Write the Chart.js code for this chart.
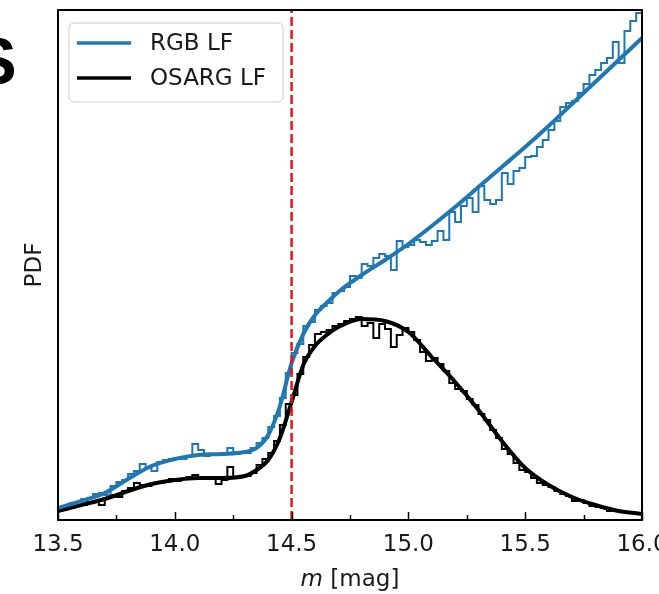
<!DOCTYPE html>
<html>
<head>
<meta charset="utf-8">
<title>RGB and OSARG luminosity functions</title>
<script src="https://cdn.jsdelivr.net/npm/chart.js@4.4.1/dist/chart.umd.min.js"></script>
<style>
  html, body { margin: 0; padding: 0; background: #fff; overflow: hidden; }
  #wrap { position: relative; width: 659px; height: 594px; overflow: hidden; }
  #lfChart { position: absolute; left: 0; top: 0; }
  .panel-mark {
    position: absolute; left: -28px; top: 27px;
    font: bold 67px "Liberation Sans", Arial, sans-serif; line-height: 1; color: #000;
  }
</style>
</head>
<body>
<div id="wrap">
  <canvas id="lfChart" width="700" height="594"></canvas>
  <div class="panel-mark">S</div>
</div>
<script>
// ---- data (arbitrary PDF units) ----
const histStart = 13.5;
const binWidth = 0.025;

const rgbHist = [
  0.13, 0.14, 0.17, 0.18, 0.21, 0.22, 0.26, 0.27, 0.25, 0.34,
  0.38, 0.40, 0.46, 0.49, 0.56, 0.52, 0.49, 0.58, 0.60, 0.61,
  0.62, 0.61, 0.64, 0.76, 0.70, 0.64, 0.65, 0.66, 0.67, 0.72,
  0.66, 0.68, 0.67, 0.72, 0.77, 0.82, 0.93, 1.04, 1.22, 1.47,
  1.67, 1.76, 1.94, 1.98, 2.10, 2.14, 2.17, 2.27, 2.29, 2.33,
  2.44, 2.42, 2.56, 2.54, 2.62, 2.66, 2.64, 2.50, 2.79, 2.73,
  2.75, 2.80, 2.78, 2.75, 2.79, 2.89, 2.80, 3.08, 2.98, 3.14,
  3.22, 3.08, 3.34, 3.20, 3.16, 3.20, 3.47, 3.36, 3.49, 3.52,
  3.63, 3.64, 3.73, 3.80, 3.90, 3.99, 4.13, 4.17, 4.19, 4.27,
  4.36, 4.45, 4.50, 4.57, 4.62, 4.78, 4.57, 4.89, 4.99, 5.07
];

const osargHist = [
  0.10, 0.12, 0.13, 0.15, 0.15, 0.18, 0.19, 0.15, 0.22, 0.25,
  0.23, 0.29, 0.32, 0.37, 0.35, 0.34, 0.37, 0.37, 0.38, 0.41,
  0.39, 0.41, 0.43, 0.45, 0.43, 0.42, 0.41, 0.36, 0.40, 0.53,
  0.43, 0.44, 0.44, 0.47, 0.55, 0.61, 0.67, 0.79, 0.95, 1.16,
  1.25, 1.46, 1.63, 1.75, 1.86, 1.88, 1.90, 1.94, 1.96, 1.99,
  2.01, 2.03, 1.94, 1.97, 1.82, 1.96, 1.91, 1.73, 1.85, 1.92,
  1.88, 1.80, 1.68, 1.59, 1.62, 1.56, 1.49, 1.37, 1.31, 1.29,
  1.21, 1.15, 1.06, 1.00, 0.90, 0.82, 0.71, 0.66, 0.57, 0.50,
  0.48, 0.42, 0.37, 0.35, 0.33, 0.29, 0.26, 0.24, 0.19, 0.20,
  0.17, 0.14, 0.13, 0.12, 0.09, 0.10, 0.08, 0.08, 0.07, 0.06
];

const fitMag = [13.5, 13.6, 13.7, 13.8, 13.9, 14.0, 14.1, 14.2, 14.3, 14.35,
                14.4, 14.45, 14.5, 14.55, 14.6, 14.65, 14.7, 14.8, 14.9, 15.0,
                15.1, 15.2, 15.3, 15.4, 15.5, 15.6, 15.7, 15.8, 15.9, 16.0];
const rgbFit = [0.12, 0.19, 0.27, 0.41, 0.54, 0.61, 0.65, 0.66, 0.68, 0.72,
                0.85, 1.14, 1.57, 1.86, 2.05, 2.17, 2.28, 2.45, 2.60, 2.76,
                2.94, 3.13, 3.33, 3.53, 3.73, 3.94, 4.16, 4.38, 4.60, 4.82];
const osargFit = [0.09, 0.15, 0.21, 0.29, 0.36, 0.40, 0.42, 0.42, 0.44, 0.50,
                  0.60, 0.82, 1.18, 1.55, 1.74, 1.85, 1.93, 2.01, 1.99, 1.88,
                  1.63, 1.38, 1.10, 0.79, 0.52, 0.35, 0.23, 0.15, 0.09, 0.06];

const trgbMag = 14.5;
const majorTicks = [13.5, 14.0, 14.5, 15.0, 15.5, 16.0];
const minorTicks = [13.75, 14.25, 14.75, 15.25, 15.75];
const yMax = 5.1;

const legendItems = [
  { label: 'RGB LF', color: '#1f77b4' },
  { label: 'OSARG LF', color: '#000000' }
];

// ---- helpers ----
// one point per bin edge; the value holds over the bin (step-before in chart.js terms)
function histPoints(values) {
  const pts = values.map((v, i) => ({ x: histStart + i * binWidth, y: v }));
  pts.push({ x: histStart + values.length * binWidth, y: values[values.length - 1] });
  return pts;
}

function curvePoints(values) {
  return fitMag.map((m, i) => ({ x: m, y: values[i] }));
}

const FONT = '"DejaVu Sans", "Liberation Sans", sans-serif';

// frame, inward ticks, legend and x title (matplotlib look)
const mplPlugin = {
  id: 'mplDecor',
  afterDraw(chart) {
    const { ctx, chartArea: a, scales: { x } } = chart;
    ctx.save();

    // inward ticks on bottom axis
    ctx.strokeStyle = '#000';
    ctx.lineWidth = 1.5;
    majorTicks.concat(minorTicks).forEach(v => {
      const px = Math.round(x.getPixelForValue(v)) + 0.5;
      const len = majorTicks.includes(v) ? 8 : 5;
      ctx.beginPath();
      ctx.moveTo(px, a.bottom);
      ctx.lineTo(px, a.bottom - len);
      ctx.stroke();
    });

    // axes box
    ctx.lineWidth = 2;
    ctx.strokeRect(a.left, a.top, a.right - a.left, a.bottom - a.top);

    // legend
    const lx = a.left + 11, ly = a.top + 13, lw = 214, lh = 79;
    ctx.beginPath();
    ctx.roundRect(lx, ly, lw, lh, 5);
    ctx.fillStyle = 'rgba(255,255,255,0.85)';
    ctx.fill();
    ctx.lineWidth = 1;
    ctx.strokeStyle = '#cccccc';
    ctx.stroke();

    ctx.font = '23px ' + FONT;
    ctx.textBaseline = 'middle';
    ctx.textAlign = 'left';
    legendItems.forEach((item, i) => {
      const y = ly + 20 + i * 35;
      ctx.strokeStyle = item.color;
      ctx.lineWidth = 3.5;
      ctx.beginPath();
      ctx.moveTo(lx + 8, y);
      ctx.lineTo(lx + 62, y);
      ctx.stroke();
      ctx.fillStyle = '#1a1a1a';
      ctx.fillText(item.label, lx + 81, y + 1);
    });

    // x axis title: italic m + [mag]
    const cx = (a.left + a.right) / 2;
    const ty = 580;
    const italic = 'italic 23px ' + FONT;
    const upright = '23px ' + FONT;
    ctx.font = italic;
    const w1 = ctx.measureText('m').width;
    ctx.font = upright;
    const w2 = ctx.measureText(' [mag]').width;
    const start = cx - (w1 + w2) / 2;
    ctx.fillStyle = '#1a1a1a';
    ctx.font = italic;
    ctx.fillText('m', start, ty);
    ctx.font = upright;
    ctx.fillText(' [mag]', start + w1, ty);

    ctx.restore();
  }
};

function initLFChart() {
  const canvas = document.getElementById('lfChart');
  const ctx = canvas.getContext('2d');

  Chart.defaults.font.family = FONT;

  new Chart(ctx, {
    type: 'line',
    data: {
      datasets: [
        {
          label: 'TRGB',
          data: [{ x: trgbMag, y: 0 }, { x: trgbMag, y: yMax }],
          borderColor: '#e8141c',
          borderWidth: 2.5,
          borderDash: [9, 4],
          pointRadius: 0,
          order: 0
        },
        {
          label: 'RGB LF',
          data: curvePoints(rgbFit),
          borderColor: '#1f77b4',
          borderWidth: 4,
          pointRadius: 0,
          cubicInterpolationMode: 'monotone',
          order: 1
        },
        {
          label: 'OSARG LF',
          data: curvePoints(osargFit),
          borderColor: '#000000',
          borderWidth: 4,
          pointRadius: 0,
          cubicInterpolationMode: 'monotone',
          order: 1
        },
        {
          label: 'RGB hist',
          data: histPoints(rgbHist),
          borderColor: '#1f77b4',
          borderWidth: 2,
          pointRadius: 0,
          stepped: 'before',
          order: 2
        },
        {
          label: 'OSARG hist',
          data: histPoints(osargHist),
          borderColor: '#000000',
          borderWidth: 2,
          pointRadius: 0,
          stepped: 'before',
          order: 2
        }
      ]
    },
    options: {
      responsive: false,
      animation: false,
      devicePixelRatio: 1,
      layout: {
        padding: { left: 0, right: 58, top: 10, bottom: 0 }
      },
      plugins: {
        legend: { display: false },
        tooltip: { enabled: false }
      },
      scales: {
        x: {
          type: 'linear',
          min: 13.5,
          max: 16.0,
          grid: { display: false, drawTicks: false },
          border: { display: false },
          afterBuildTicks: function(scale) {
            scale.ticks = majorTicks.map(v => ({ value: v }));
          },
          afterFit: function(scale) {
            scale.height = 74;
          },
          ticks: {
            padding: 11,
            maxRotation: 0,
            autoSkip: false,
            color: '#1a1a1a',
            font: { size: 23 },
            callback: function(value) {
              return value.toFixed(1);
            }
          }
        },
        y: {
          type: 'linear',
          min: 0,
          max: yMax,
          grid: { display: false, drawTicks: false },
          border: { display: false },
          ticks: { display: false },
          afterFit: function(scale) {
            scale.width = 58;
          },
          title: {
            display: true,
            text: 'PDF',
            color: '#1a1a1a',
            font: { size: 23 },
            padding: { top: 21, bottom: 0 }
          }
        }
      }
    },
    plugins: [mplPlugin]
  });
}

document.addEventListener('DOMContentLoaded', initLFChart);
</script>
</body>
</html>
